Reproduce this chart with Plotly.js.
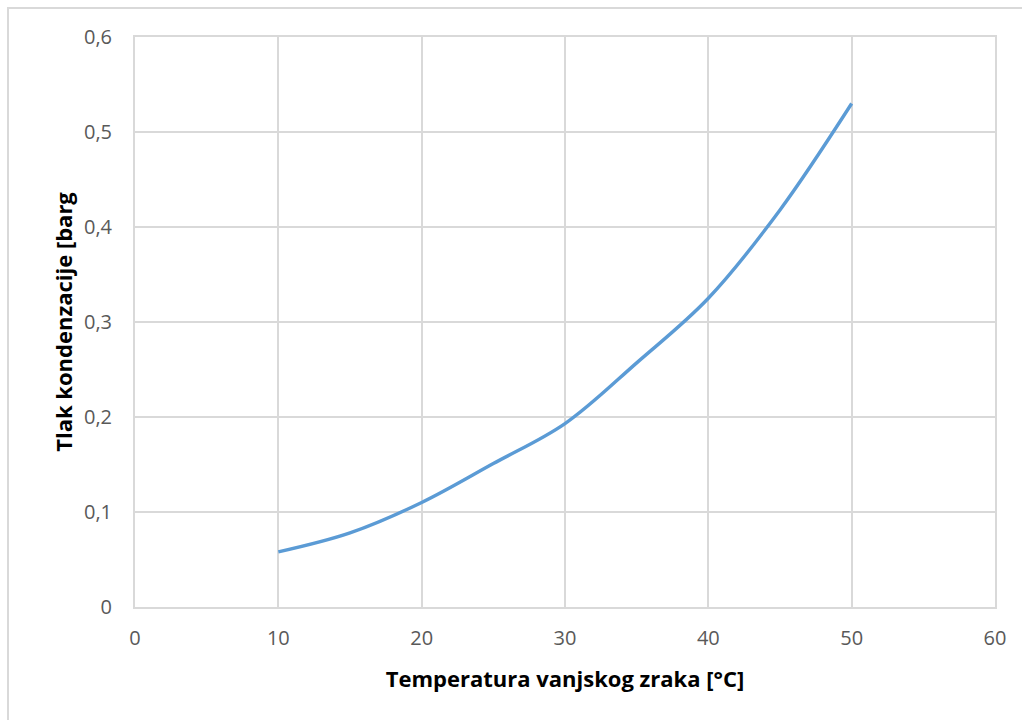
<!DOCTYPE html>
<html>
<head>
<meta charset="utf-8">
<script src="https://cdn.plot.ly/plotly-3.0.1.min.js"></script>
<style>
html,body{margin:0;padding:0;background:#fff;}
#wrap{position:relative;width:1022px;height:720px;}
#frame{position:absolute;left:7px;top:7px;width:1015px;height:713px;border-left:2px solid #d9d9d9;border-top:2px solid #d9d9d9;pointer-events:none;z-index:5;}
#chart{position:absolute;left:0;top:0;width:1022px;height:720px;}
</style>
</head>
<body>
<div id="wrap"><div id="chart"></div><div id="frame"></div></div>
<script>
const temperature = [10, 15, 20, 25, 30, 35, 40, 45, 50];
const pressure = [0.058, 0.078, 0.110, 0.151, 0.193, 0.257, 0.325, 0.418, 0.530];
const xTicks = [0, 10, 20, 30, 40, 50, 60];
const yTicks = [0, 0.1, 0.2, 0.3, 0.4, 0.5, 0.6];
const yTickText = ['0', '0,1', '0,2', '0,3', '0,4', '0,5', '0,6'];

const trace = {
  x: temperature, y: pressure, type: 'scatter', mode: 'lines',
  line: {color: '#5b9bd5', width: 3.4, shape: 'spline', smoothing: 1},
  hoverinfo: 'skip'
};
const tickFont = {family: 'Open Sans, sans-serif', size: 20, color: '#595959'};
const layout = {
  width: 1022, height: 720,
  margin: {l: 135, r: 27, t: 37, b: 113},
  paper_bgcolor: '#ffffff', plot_bgcolor: '#ffffff',
  showlegend: false,
  xaxis: {
    range: [0, 60], tickvals: xTicks, ticktext: xTicks.map(String),
    showgrid: true, gridcolor: '#d9d9d9', gridwidth: 2,
    showline: true, linecolor: '#d9d9d9', linewidth: 2, mirror: true,
    zeroline: false, ticks: 'outside', ticklen: 12, tickcolor: 'rgba(0,0,0,0)',
    tickfont: tickFont,
    title: {text: 'Temperatura vanjskog zraka [°C]', font: {family: 'Open Sans, sans-serif', size: 22, color: '#000', weight: 'bold'}, standoff: 22}
  },
  yaxis: {
    range: [0, 0.6], tickvals: yTicks, ticktext: yTickText,
    showgrid: true, gridcolor: '#d9d9d9', gridwidth: 2,
    showline: true, linecolor: '#d9d9d9', linewidth: 2, mirror: true,
    zeroline: false, ticks: 'outside', ticklen: 17, tickcolor: 'rgba(0,0,0,0)',
    tickfont: tickFont,
    title: {text: 'Tlak kondenzacije [barg', font: {family: 'Open Sans, sans-serif', size: 22, color: '#000', weight: 'bold'}, standoff: 5}
  }
};
Plotly.newPlot('chart', [trace], layout, {staticPlot: true, displayModeBar: false});
</script>
</body>
</html>
